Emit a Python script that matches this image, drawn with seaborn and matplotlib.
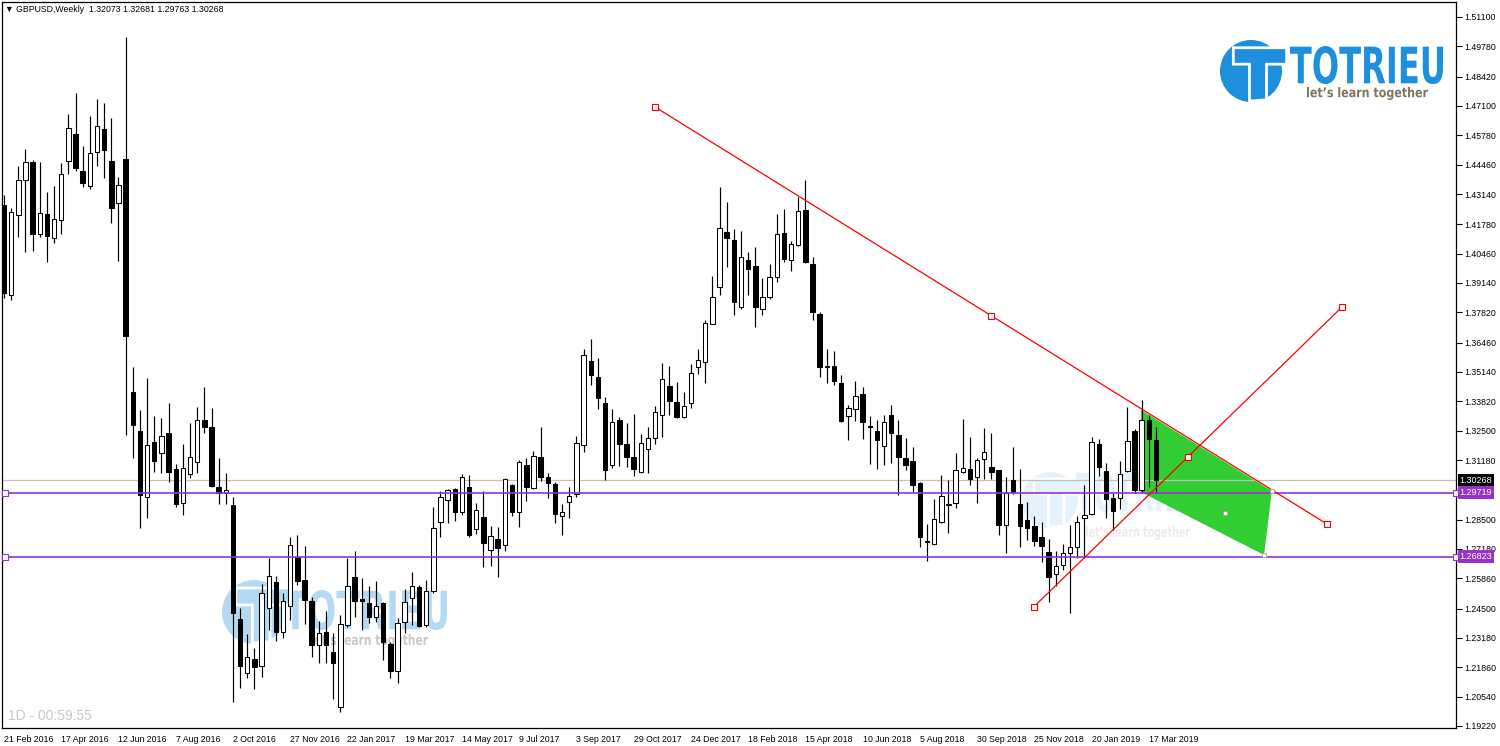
import numpy as np
import matplotlib
matplotlib.use("Agg")
import matplotlib.pyplot as plt
import matplotlib.transforms as mtransforms
from matplotlib.textpath import TextPath
from matplotlib.patches import PathPatch, Circle, Polygon
from matplotlib.font_manager import FontProperties
from matplotlib.transforms import Affine2D
import seaborn as sns

# weekly GBPUSD candles, 21 Feb 2016 .. 24 Mar 2019
opens = [
    1.4265, 1.3860, 1.4220, 1.4377, 1.4458, 1.4134, 1.4224, 1.4116, 1.4197, 1.4462,
    1.4584, 1.4418, 1.4350, 1.4503, 1.4606, 1.4462, 1.4274, 1.4471, 1.3424, 1.3248,
    1.2952, 1.3199, 1.3150, 1.3239, 1.3078, 1.2925, 1.3055, 1.3109, 1.3298, 1.3266,
    1.2997, 1.2970, 1.2916, 1.2403, 1.2160, 1.2223, 1.2192, 1.2453, 1.2570, 1.2345,
    1.2462, 1.2682, 1.2578, 1.2484, 1.2286, 1.2345, 1.2255, 1.2007, 1.2376, 1.2592,
    1.2493, 1.2475, 1.2412, 1.2475, 1.2291, 1.2169, 1.2390, 1.2498, 1.2547, 1.2376,
    1.2529, 1.2839, 1.2938, 1.2988, 1.2884, 1.2997, 1.2808, 1.2862, 1.2713, 1.2763,
    1.2736, 1.3006, 1.2884, 1.3096, 1.2992, 1.3132, 1.3042, 1.3010, 1.2866, 1.2929,
    1.2965, 1.3186, 1.3563, 1.3491, 1.3374, 1.3096, 1.3298, 1.3190, 1.3132, 1.3064,
    1.3168, 1.3217, 1.3320, 1.3451, 1.3379, 1.3311, 1.3374, 1.3536, 1.3559, 1.3730,
    1.3896, 1.4143, 1.4107, 1.3806, 1.4017, 1.3990, 1.3797, 1.3851, 1.3941, 1.4139,
    1.4017, 1.4085, 1.4242, 1.3999, 1.3775, 1.3536, 1.3541, 1.3464, 1.3316, 1.3347,
    1.3415, 1.3271, 1.3248, 1.3181, 1.3320, 1.3230, 1.3127, 1.3114, 1.3015, 1.2754,
    1.2740, 1.2839, 1.2916, 1.2925, 1.3064, 1.3078, 1.3042, 1.3123, 1.3087, 1.3073,
    1.2826, 1.3028, 1.2920, 1.2848, 1.2821, 1.2772, 1.2704, 1.2605, 1.2646, 1.2700,
    1.2727, 1.2857, 1.2875, 1.3190, 1.3069, 1.2947, 1.2947, 1.3069, 1.3248, 1.2983,
    1.3298, 1.32073,
]
highs = [
    1.4310, 1.4251, 1.4440, 1.4516, 1.4467, 1.4458, 1.4323, 1.4350, 1.4453, 1.4674,
    1.4768, 1.4530, 1.4665, 1.4741, 1.4723, 1.4656, 1.4391, 1.5020, 1.3536, 1.3343,
    1.3487, 1.3316, 1.3307, 1.3374, 1.3100, 1.3190, 1.3284, 1.3356, 1.3446, 1.3352,
    1.3127, 1.3060, 1.2952, 1.2453, 1.2336, 1.2273, 1.2561, 1.2677, 1.2596, 1.2520,
    1.2772, 1.2781, 1.2731, 1.2502, 1.2394, 1.2439, 1.2340, 1.2421, 1.2677, 1.2709,
    1.2587, 1.2552, 1.2574, 1.2480, 1.2300, 1.2408, 1.2538, 1.2614, 1.2556, 1.2578,
    1.2907, 1.2979, 1.2988, 1.2992, 1.3055, 1.3051, 1.2925, 1.2979, 1.2821, 1.2817,
    1.3037, 1.3008, 1.3118, 1.3127, 1.3159, 1.3266, 1.3060, 1.3019, 1.2920, 1.2997,
    1.3226, 1.3617, 1.3662, 1.3577, 1.3401, 1.3347, 1.3311, 1.3284, 1.3325, 1.3235,
    1.3266, 1.3361, 1.3554, 1.3541, 1.3469, 1.3424, 1.3550, 1.3617, 1.3748, 1.3945,
    1.4346, 1.4278, 1.4157, 1.4148, 1.4053, 1.4076, 1.3936, 1.3999, 1.4224, 1.4247,
    1.4103, 1.4301, 1.4377, 1.4031, 1.3784, 1.3617, 1.3608, 1.3500, 1.3365, 1.3473,
    1.3446, 1.3316, 1.3298, 1.3320, 1.3365, 1.3298, 1.3217, 1.3177, 1.3017, 1.2830,
    1.2943, 1.3051, 1.3028, 1.3150, 1.3302, 1.3221, 1.3127, 1.3262, 1.3239, 1.3075,
    1.3042, 1.3177, 1.3078, 1.2929, 1.2866, 1.2839, 1.2763, 1.2709, 1.2740, 1.2826,
    1.2866, 1.3006, 1.3221, 1.3212, 1.3105, 1.2970, 1.3114, 1.3356, 1.3257, 1.3388,
    1.3320, 1.32681,
]
lows = [
    1.3846, 1.3837, 1.4121, 1.4053, 1.4058, 1.4121, 1.4008, 1.4094, 1.4134, 1.4404,
    1.4418, 1.4346, 1.4337, 1.4440, 1.4386, 1.4184, 1.4013, 1.3230, 1.3127, 1.2812,
    1.2857, 1.3064, 1.3060, 1.3019, 1.2907, 1.2871, 1.3037, 1.3060, 1.3239, 1.2997,
    1.2920, 1.2920, 1.2030, 1.2093, 1.2138, 1.2088, 1.2142, 1.2354, 1.2304, 1.2318,
    1.2399, 1.2556, 1.2381, 1.2232, 1.2205, 1.2205, 1.2043, 1.1985, 1.2367, 1.2412,
    1.2354, 1.2385, 1.2390, 1.2219, 1.2138, 1.2115, 1.2340, 1.2376, 1.2367, 1.2367,
    1.2520, 1.2772, 1.2835, 1.2844, 1.2871, 1.2772, 1.2785, 1.2637, 1.2641, 1.2592,
    1.2709, 1.2866, 1.2817, 1.2934, 1.2988, 1.3024, 1.2947, 1.2835, 1.2781, 1.2857,
    1.2952, 1.3154, 1.3455, 1.3347, 1.3028, 1.3082, 1.3091, 1.3087, 1.3046, 1.3060,
    1.3060, 1.3190, 1.3221, 1.3320, 1.3307, 1.3307, 1.3352, 1.3505, 1.3464, 1.3728,
    1.3860, 1.3986, 1.3770, 1.3797, 1.3860, 1.3716, 1.3770, 1.3842, 1.3918, 1.4008,
    1.3968, 1.4080, 1.4005, 1.3748, 1.3491, 1.3464, 1.3455, 1.3289, 1.3208, 1.3293,
    1.3212, 1.3100, 1.3078, 1.3096, 1.3105, 1.2961, 1.3073, 1.2974, 1.2727, 1.2664,
    1.2736, 1.2835, 1.2790, 1.2902, 1.3060, 1.3006, 1.2925, 1.3033, 1.3033, 1.2781,
    1.2700, 1.2965, 1.2727, 1.2758, 1.2731, 1.2659, 1.2480, 1.2552, 1.2623, 1.2430,
    1.2677, 1.2677, 1.2871, 1.3046, 1.2857, 1.2803, 1.2898, 1.3064, 1.2970, 1.2974,
    1.2997, 1.29763,
]
closes = [
    1.3869, 1.4233, 1.4377, 1.4458, 1.4134, 1.4229, 1.4125, 1.4202, 1.4404, 1.4611,
    1.4431, 1.4364, 1.4498, 1.4620, 1.4512, 1.4251, 1.4355, 1.3676, 1.3275, 1.2961,
    1.3186, 1.3114, 1.3226, 1.3064, 1.2920, 1.3082, 1.3132, 1.3298, 1.3266, 1.3001,
    1.2970, 1.2983, 1.2430, 1.2192, 1.2232, 1.2187, 1.2520, 1.2596, 1.2345, 1.2484,
    1.2736, 1.2574, 1.2489, 1.2286, 1.2340, 1.2286, 1.2205, 1.2381, 1.2552, 1.2484,
    1.2484, 1.2412, 1.2462, 1.2300, 1.2169, 1.2385, 1.2480, 1.2552, 1.2372, 1.2529,
    1.2812, 1.2952, 1.2983, 1.2884, 1.3042, 1.2781, 1.2893, 1.2745, 1.2776, 1.2722,
    1.3033, 1.2884, 1.3109, 1.2997, 1.3136, 1.3042, 1.3015, 1.2875, 1.2884, 1.2956,
    1.3195, 1.3590, 1.3500, 1.3397, 1.3073, 1.3289, 1.3190, 1.3132, 1.3078, 1.3195,
    1.3217, 1.3334, 1.3482, 1.3383, 1.3311, 1.3361, 1.3509, 1.3568, 1.3734, 1.3851,
    1.4161, 1.4116, 1.3828, 1.4031, 1.3977, 1.3806, 1.3851, 1.3941, 1.4134, 1.4022,
    1.4089, 1.4238, 1.4008, 1.3784, 1.3536, 1.3541, 1.3473, 1.3293, 1.3352, 1.3406,
    1.3289, 1.3266, 1.3208, 1.3289, 1.3239, 1.3132, 1.3096, 1.3006, 1.2772, 1.2749,
    1.2853, 1.2956, 1.2920, 1.3073, 1.3082, 1.3033, 1.3118, 1.3154, 1.3064, 1.2826,
    1.2970, 1.2974, 1.2821, 1.2812, 1.2754, 1.2731, 1.2592, 1.2641, 1.2700, 1.2727,
    1.2839, 1.2871, 1.3199, 1.3087, 1.2943, 1.2889, 1.3055, 1.3203, 1.2983, 1.3298,
    1.3212, 1.30268,
]

date_ticks = [0, 8, 16, 24, 32, 40, 48, 56, 64, 72, 80, 88, 96, 104, 112, 120,
              128, 136, 144, 152, 160]
date_labels = ["21 Feb 2016", "17 Apr 2016", "12 Jun 2016", "7 Aug 2016",
               "2 Oct 2016", "27 Nov 2016", "22 Jan 2017", "19 Mar 2017",
               "14 May 2017", "9 Jul 2017", "3 Sep 2017", "29 Oct 2017",
               "24 Dec 2017", "18 Feb 2018", "15 Apr 2018", "10 Jun 2018",
               "5 Aug 2018", "30 Sep 2018", "25 Nov 2018", "20 Jan 2019",
               "17 Mar 2019"]
price_ticks = [1.51100, 1.49780, 1.48420, 1.47100, 1.45780, 1.44460, 1.43140,
               1.41780, 1.40460, 1.39140, 1.37820, 1.36460, 1.35140, 1.33820,
               1.32500, 1.31180, 1.28500, 1.27180, 1.25860, 1.24500, 1.23180,
               1.21860, 1.20540, 1.19220]

last_price = 1.30268
levels = [1.29719, 1.26823]

# drawing objects: (bar index, price)
trend_down = [(91.0, 1.4705), (137.9, 1.3766), (184.9, 1.2830)]
trend_up = [(143.9, 1.2457), (165.5, 1.3132), (187.0, 1.3806)]
flag_x = [158.9, 177.2, 176.1, 158.9]
flag_y = [1.3343, 1.2979, 1.2691, 1.2974]

sns.set_theme(style="white")
plt.rcParams['font.family'] = ['Liberation Sans', 'DejaVu Sans']

W, H = 1500, 746
fig = plt.figure(figsize=(15, 7.46), dpi=100)
fig.patch.set_facecolor("white")

# watermark / logo layer (pixel coords) behind the price axes
ov = fig.add_axes([0, 0, 1, 1], zorder=0)
ov.set_xlim(0, W)
ov.set_ylim(H, 0)
ov.axis("off")


def fit_text(s, x0, x1, y0, y1, color, weight="bold"):
    tp = TextPath((0, 0), s, size=10,
                  prop=FontProperties(family="DejaVu Sans", weight=weight))
    bb = tp.get_extents()
    tr = (Affine2D().translate(-bb.x0, -bb.y0)
          .scale((x1 - x0) / bb.width, -(y1 - y0) / bb.height)
          .translate(x0, y1))
    ov.add_patch(PathPatch(tr.transform_path(tp), fc=color, ec="none"))


def logo(cx, cy, r, tx, ty, gx, gy, blue, tag):
    ov.add_patch(Circle((cx, cy), r, fc=blue, ec="none"))
    t_shape = [(cx - 0.57 * r, cy - 0.75 * r), (cx + 1.15 * r, cy - 0.75 * r),
               (cx + 1.15 * r, cy - 0.22 * r), (cx + 0.5 * r, cy - 0.22 * r),
               (cx + 0.5 * r, cy + 0.93 * r), (cx - 0.05 * r, cy + 0.97 * r),
               (cx - 0.05 * r, cy - 0.22 * r), (cx - 0.57 * r, cy - 0.22 * r)]
    ov.add_patch(Polygon(t_shape, closed=True, fc=blue, ec="white", lw=2.0))
    fit_text("TOTRIEU", tx[0], tx[1], ty[0], ty[1], blue)
    fit_text("let\u2019s learn together", gx[0], gx[1], gy[0], gy[1], tag)


logo(1251, 71, 31, (1290, 1443), (46, 84), (1307, 1428), (87, 100),
     "#1e8fdc", "#85735f")
logo(254, 612, 32, (284, 447), (590, 630), (311, 428), (634, 648),
     "#b3daf2", "#cfc7bf")
logo(1050, 500, 28, (1076, 1200), (472, 512), (1086, 1190), (526, 540),
     "#e6f2fb", "#eeeae6")

# price axes
ax = fig.add_axes([2 / W, 18 / H, 1454 / W, 726 / H], zorder=1)
ax.patch.set_alpha(0)

idx = np.arange(len(opens))
o = np.array(opens)
h = np.array(highs)
l = np.array(lows)
c = np.array(closes)
bull = c >= o
body_lo = np.minimum(o, c)
body_h = np.maximum(np.abs(c - o), 0.0003)

ax.fill(flag_x, flag_y, color="#32cd32", lw=0, zorder=1)
ax.axhline(last_price, color="#c0c0c0", lw=0.9, zorder=1.5)

ax.vlines(idx, l, h, color="black", lw=0.85, zorder=2)
ax.bar(idx[bull], body_h[bull], bottom=body_lo[bull], width=0.62,
       color="white", edgecolor="black", linewidth=0.75, zorder=3)
ax.bar(idx[~bull], body_h[~bull], bottom=body_lo[~bull], width=0.62,
       color="black", edgecolor="black", linewidth=0.75, zorder=3)

for lv in levels:
    ax.axhline(lv, color="#9932cc", lw=1.2, zorder=4)
    ax.plot([0.15, 202.9], [lv, lv], ls="none", marker="s", ms=4,
            mfc="white", mec="#9932cc", mew=0.8, zorder=5, clip_on=False)

for pts in (trend_down, trend_up):
    xs = [p[0] for p in pts]
    ys = [p[1] for p in pts]
    ax.plot([xs[0], xs[-1]], [ys[0], ys[-1]], color="red", lw=0.9, zorder=4)
    sns.scatterplot(x=xs, y=ys, marker="s", s=14, color="white",
                    edgecolor="red", linewidth=0.8, zorder=5, ax=ax)

sns.scatterplot(x=[170.6, 177.2, 176.1], y=[1.2880, 1.2979, 1.2691],
                marker="s", s=8, color="white", edgecolor="#a0a0a0",
                linewidth=0.6, zorder=5, ax=ax)

ax.set_xlim(-0.28, 202.93)
ax.set_ylim(1.19130, 1.51774)

ax.yaxis.tick_right()
ax.set_yticks(price_ticks)
ax.set_yticklabels([f"{v:.5f}" for v in price_ticks])
ax.set_xticks(date_ticks)
ax.set_xticklabels(date_labels, ha="left")
ax.tick_params(axis="y", direction="out", length=4, width=0.8, pad=2,
               labelsize=6.3, colors="black")
ax.tick_params(axis="x", direction="out", length=3, width=0.8, pad=2,
               labelsize=6.3, colors="black")
for sp in ax.spines.values():
    sp.set_color("black")
    sp.set_linewidth(0.9)
    sp.set_visible(True)

# value boxes on the price scale
blend = mtransforms.blended_transform_factory(ax.transAxes, ax.transData)
for val, fc in [(last_price, "black"), (levels[0], "#9932cc"), (levels[1], "#9932cc")]:
    ax.text(1.0024, val, f"{val:.5f}", transform=blend, ha="left", va="center",
            fontsize=6.5, color="white", clip_on=False, zorder=6,
            bbox=dict(boxstyle="square,pad=0.22", fc=fc, ec="none"))

fig.text(5 / W, 1 - 9 / H,
         "\u25bc GBPUSD,Weekly  1.32073 1.32681 1.29763 1.30268",
         fontsize=6.3, va="center", ha="left", color="black",
         family=["Liberation Sans", "DejaVu Sans"])
fig.text(8 / W, 1 - 716 / H, "1D - 00:59:55", fontsize=10, va="center",
         ha="left", color="#c8c8c8")

fig.savefig("out.png", dpi=100, facecolor="white")
